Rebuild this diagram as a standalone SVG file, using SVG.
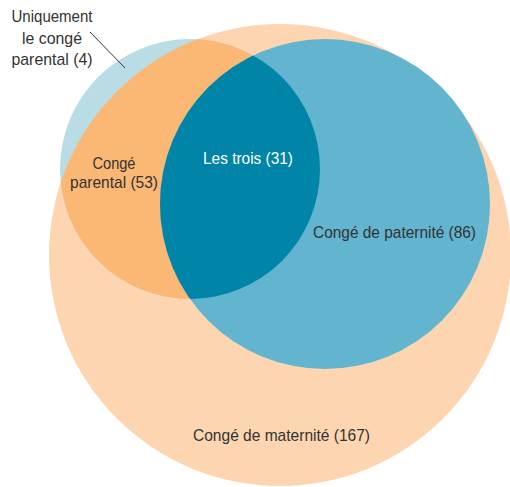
<svg xmlns="http://www.w3.org/2000/svg" width="510" height="487" viewBox="0 0 510 487">
<style>
  .lbl { font-family: "Liberation Sans", Arial, sans-serif; font-size: 17px; fill: #333333; text-anchor: middle; }
  .w { fill: #ffffff; }
</style>
<defs>
  <clipPath id="clipMat"><circle cx="280" cy="255" r="231"/></clipPath>
  <clipPath id="clipPat"><circle cx="325" cy="204" r="165"/></clipPath>
</defs>
<rect width="510" height="487" fill="#ffffff"/>
<g id="maternite">
  <circle cx="280" cy="255" r="231" fill="#FDD6B1"/>
</g>
<g id="parental">
  <circle cx="190" cy="169" r="130" fill="#BADCE5"/>
  <circle cx="190" cy="169" r="130" fill="#FBB874" clip-path="url(#clipMat)"/>
</g>
<g id="paternite">
  <circle cx="325" cy="204" r="165" fill="#62B4CF"/>
</g>
<g id="lestrois">
  <circle cx="190" cy="169" r="130" fill="#0084A8" clip-path="url(#clipPat)"/>
</g>
<g id="connectors">
  <line x1="90" y1="32" x2="125" y2="68" stroke="#333333" stroke-width="1"/>
</g>
<g id="labels">
  <text class="lbl" x="52" y="22" textLength="81" lengthAdjust="spacingAndGlyphs">Uniquement</text>
  <text class="lbl" x="52" y="44" textLength="60" lengthAdjust="spacingAndGlyphs">le congé</text>
  <text class="lbl" x="52" y="65" textLength="81" lengthAdjust="spacingAndGlyphs">parental (4)</text>
  <text class="lbl" x="114" y="169" textLength="43" lengthAdjust="spacingAndGlyphs">Congé</text>
  <text class="lbl" x="114" y="188" textLength="88" lengthAdjust="spacingAndGlyphs">parental (53)</text>
  <text class="lbl w" x="248" y="164" textLength="90" lengthAdjust="spacingAndGlyphs">Les trois (31)</text>
  <text class="lbl" x="394.5" y="238" textLength="163" lengthAdjust="spacingAndGlyphs">Congé de paternité (86)</text>
  <text class="lbl" x="281.5" y="441" textLength="177" lengthAdjust="spacingAndGlyphs">Congé de maternité (167)</text>
</g>
</svg>
